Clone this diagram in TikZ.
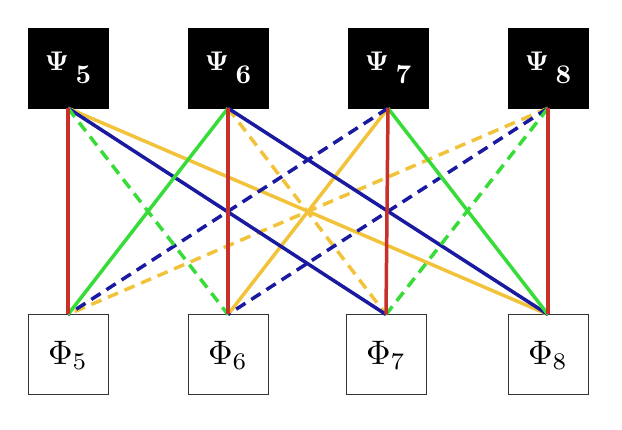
\documentclass[tikz,border=0pt]{standalone}
\usepackage{graphicx}
\usepackage{amsmath}
\definecolor{cred}{HTML}{C8302A}
\definecolor{cgreen}{HTML}{38DC38}
\definecolor{cblue}{HTML}{1A1AA0}
\definecolor{cyellow}{HTML}{F2C33A}
\definecolor{cborder}{HTML}{333333}
\newcommand{\psilabel}[1]{\scalebox{2.7}{$\mathbf{\Psi}$\hspace{2.5pt}\raisebox{-0.5em}{\bfseries #1}}}
\newcommand{\philabel}[1]{\scalebox{3.4}{$\Phi_{#1}$}}
\begin{document}
\begin{tikzpicture}[x=1pt,y=-1pt,
  psibox/.style={fill=black,draw=black,minimum width=80pt,minimum height=80pt,inner sep=0pt,text=white},
  phibox/.style={fill=white,draw=cborder,line width=1pt,minimum width=80pt,minimum height=80pt,inner sep=0pt},
  link/.style={line width=3.5pt},
  dlink/.style={line width=3.5pt,dash pattern=on 11pt off 7pt}]
\useasboundingbox (0,0) rectangle (622,430);
\node[psibox] (p5) at (68,68) {\psilabel{5}};
\node[psibox] (p6) at (228,68) {\psilabel{6}};
\node[psibox] (p7) at (388,68) {\psilabel{7}};
\node[psibox] (p8) at (548,68) {\psilabel{8}};
\node[phibox] (f5) at (68,355) {\philabel{5}};
\node[phibox] (f6) at (228,355) {\philabel{6}};
\node[phibox] (f7) at (386,355) {\philabel{7}};
\node[phibox] (f8) at (548,355) {\philabel{8}};
% yellow
\draw[link,cyellow] (p5.south) -- (f8.north);
\draw[link,cyellow] (p7.south) -- (f6.north);
\draw[dlink,cyellow] (p6.south) -- (f7.north);
\draw[dlink,cyellow] (p8.south) -- (f5.north);
% blue
\draw[link,cblue] (p5.south) -- (f7.north);
\draw[link,cblue] (p6.south) -- (f8.north);
\draw[dlink,cblue] (p7.south) -- (f5.north);
\draw[dlink,cblue] (p8.south) -- (f6.north);
% green
\draw[link,cgreen] (p6.south) -- (f5.north);
\draw[link,cgreen] (p7.south) -- (f8.north);
\draw[dlink,cgreen] (p5.south) -- (f6.north);
\draw[dlink,cgreen] (p8.south) -- (f7.north);
% red
\draw[link,cred] (p5.south) -- (f5.north);
\draw[link,cred] (p6.south) -- (f6.north);
\draw[link,cred] (p7.south) -- (f7.north);
\draw[link,cred] (p8.south) -- (f8.north);
\end{tikzpicture}
\end{document}
